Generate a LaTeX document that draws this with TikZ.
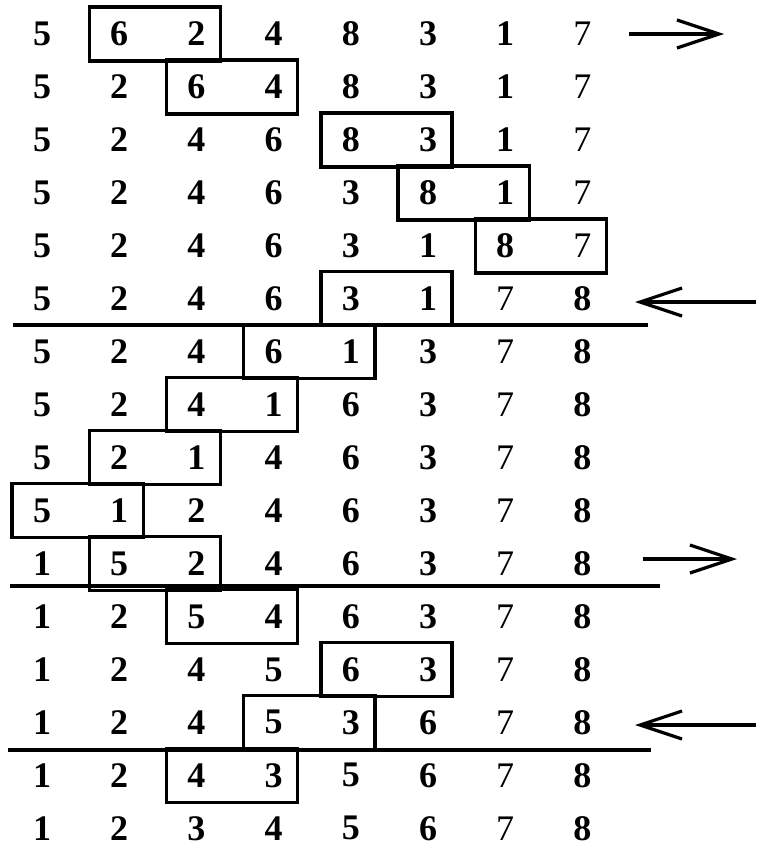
\documentclass[tikz,border=0pt]{standalone}
\usepackage{fontspec}
\setmainfont{Liberation Serif}
\usetikzlibrary{arrows.meta, calc}

\begin{document}
\begin{tikzpicture}[
        x=1pt, y=-1pt,
        num/.style={inner sep=0pt, font=\fontsize{36}{40}\selectfont\bfseries},
        swapbox/.style={draw=black, line width=3.4pt},
        divider/.style={draw=black, line width=3.4pt},
        arrow/.style={line width=3.2pt, -{Straight Barb[length=42pt, width=28pt]}}
    ]
        \useasboundingbox (0,0) rectangle (756,846);

        % Number rows
        \foreach \row [count=\r] in {
            {5,6,2,4,8,3,1,7}, {5,2,6,4,8,3,1,7}, {5,2,4,6,8,3,1,7}, {5,2,4,6,3,8,1,7},
            {5,2,4,6,3,1,8,7}, {5,2,4,6,3,1,7,8}, {5,2,4,6,1,3,7,8}, {5,2,4,1,6,3,7,8},
            {5,2,1,4,6,3,7,8}, {5,1,2,4,6,3,7,8}, {1,5,2,4,6,3,7,8}, {1,2,5,4,6,3,7,8},
            {1,2,4,5,6,3,7,8}, {1,2,4,5,3,6,7,8}, {1,2,4,3,5,6,7,8}, {1,2,3,4,5,6,7,8}}
        {
            \foreach \d [count=\c] in \row
                \node (r\r-\c) [num] at ({42+77.2*(\c-1)}, {34+52.95*(\r-1)}) {\ifnum\d=7 \mdseries\fi\d};
        }

        % Compared pairs
        \foreach \r/\a/\b in {1/2/3, 2/3/4, 3/5/6, 4/6/7, 5/7/8, 6/5/6, 7/4/5, 8/3/4,
                              9/2/3, 10/1/2, 11/2/3, 12/3/4, 13/5/6, 14/4/5, 15/3/4}
            \draw [swapbox] ($(r\r-\a)+(-30,-27)$) rectangle ($(r\r-\b)+(24,27)$);

        % Pass dividers
        \coordinate (d1w) at (13,325);  \coordinate (d1e) at (648,325);
        \coordinate (d2w) at (10,586);  \coordinate (d2e) at (660,586);
        \coordinate (d3w) at (8,750);   \coordinate (d3e) at (651,750);
        \draw [divider] (d1w) -- (d1e);
        \draw [divider] (d2w) -- (d2e);
        \draw [divider] (d3w) -- (d3e);

        % Direction arrows
        \coordinate (a1s) at (629,34);  \coordinate (a1e) at (724,34);
        \coordinate (a2s) at (756,302); \coordinate (a2e) at (635,302);
        \coordinate (a3s) at (643,559); \coordinate (a3e) at (737,559);
        \coordinate (a4s) at (756,725); \coordinate (a4e) at (635,725);
        \draw [arrow] (a1s) -- (a1e);
        \draw [arrow] (a2s) -- (a2e);
        \draw [arrow] (a3s) -- (a3e);
        \draw [arrow] (a4s) -- (a4e);
    \end{tikzpicture}
\end{document}
